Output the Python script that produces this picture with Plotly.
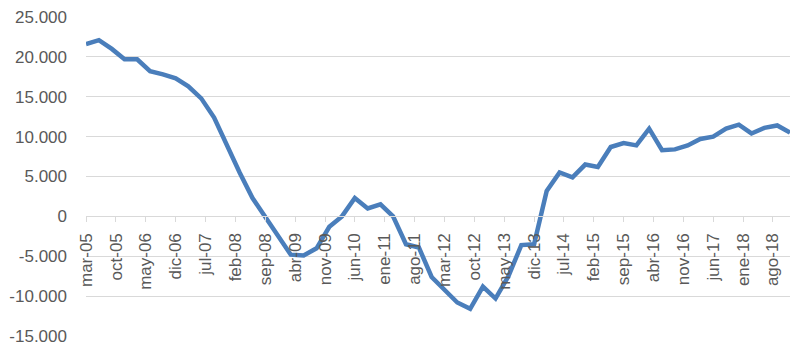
import pandas as pd
import plotly.graph_objects as go

# Quarterly observations, mar-05 .. dic-18
quarter_dates = pd.date_range("2005-03-01", periods=56, freq="3MS")

values = [
    21600, 22100, 21000, 19700, 19700, 18200, 17800, 17300, 16300, 14800,
    12400, 8800, 5500, 2300, -100, -2500, -4800, -4900, -4000, -1300,
    0, 2300, 1000, 1500, 0, -3500, -3900, -7600, -9100, -10800,
    -11600, -8800, -10300, -7500, -3600, -3500, 3200, 5500, 4900, 6500,
    6200, 8700, 9200, 8900, 11000, 8300, 8400, 8900, 9700, 10000,
    11000, 11500, 10400, 11100, 11400, 10500,
]

xtick_dates = [
    "2005-03-01", "2005-10-01", "2006-05-01", "2006-12-01", "2007-07-01",
    "2008-02-01", "2008-09-01", "2009-04-01", "2009-11-01", "2010-06-01",
    "2011-01-01", "2011-08-01", "2012-03-01", "2012-10-01", "2013-05-01",
    "2013-12-01", "2014-07-01", "2015-02-01", "2015-09-01", "2016-04-01",
    "2016-11-01", "2017-06-01", "2018-01-01", "2018-08-01",
]
xtick_labels = [
    "mar-05", "oct-05", "may-06", "dic-06", "jul-07", "feb-08", "sep-08",
    "abr-09", "nov-09", "jun-10", "ene-11", "ago-11", "mar-12", "oct-12",
    "may-13", "dic-13", "jul-14", "feb-15", "sep-15", "abr-16", "nov-16",
    "jun-17", "ene-18", "ago-18",
]

ytick_vals = [-15000, -10000, -5000, 0, 5000, 10000, 15000, 20000, 25000]
ytick_labels = ["-15.000", "-10.000", "-5.000", "0", "5.000", "10.000",
                "15.000", "20.000", "25.000"]

y_min, y_max = -15000, 25000
grey_text = "#595959"
grid = "#d9d9d9"

fig = go.Figure()
fig.add_trace(go.Scatter(
    x=quarter_dates, y=values, mode="lines",
    line=dict(color="#4a7ebb", width=4.5),
    hoverinfo="skip",
))

fig.update_layout(
    width=800, height=351,
    margin=dict(l=86, r=10, t=17, b=15, autoexpand=False),
    paper_bgcolor="white", plot_bgcolor="white",
    showlegend=False,
    font=dict(family="Liberation Sans, Arial, sans-serif", size=17, color=grey_text),
)

fig.update_xaxes(
    range=[quarter_dates[0], quarter_dates[-1]],
    tickmode="array", tickvals=xtick_dates, ticktext=xtick_labels,
    tickangle=-90,
    showgrid=False, zeroline=False,
    showline=True, linecolor=grid, linewidth=1,
    ticks="outside", ticklen=5, tickcolor=grid, tickwidth=1,
    anchor="free", position=(0 - y_min) / (y_max - y_min),
    ticklabelstandoff=4, automargin=False,
    tickfont=dict(size=17, color=grey_text),
)

fig.update_yaxes(
    range=[y_min, y_max],
    tickmode="array", tickvals=ytick_vals, ticktext=ytick_labels,
    showgrid=True, gridcolor=grid, gridwidth=1,
    zeroline=False, showline=False, ticks="",
    ticklabelstandoff=18, automargin=False,
    tickfont=dict(size=17, color=grey_text),
)

fig.write_html("out.html")
